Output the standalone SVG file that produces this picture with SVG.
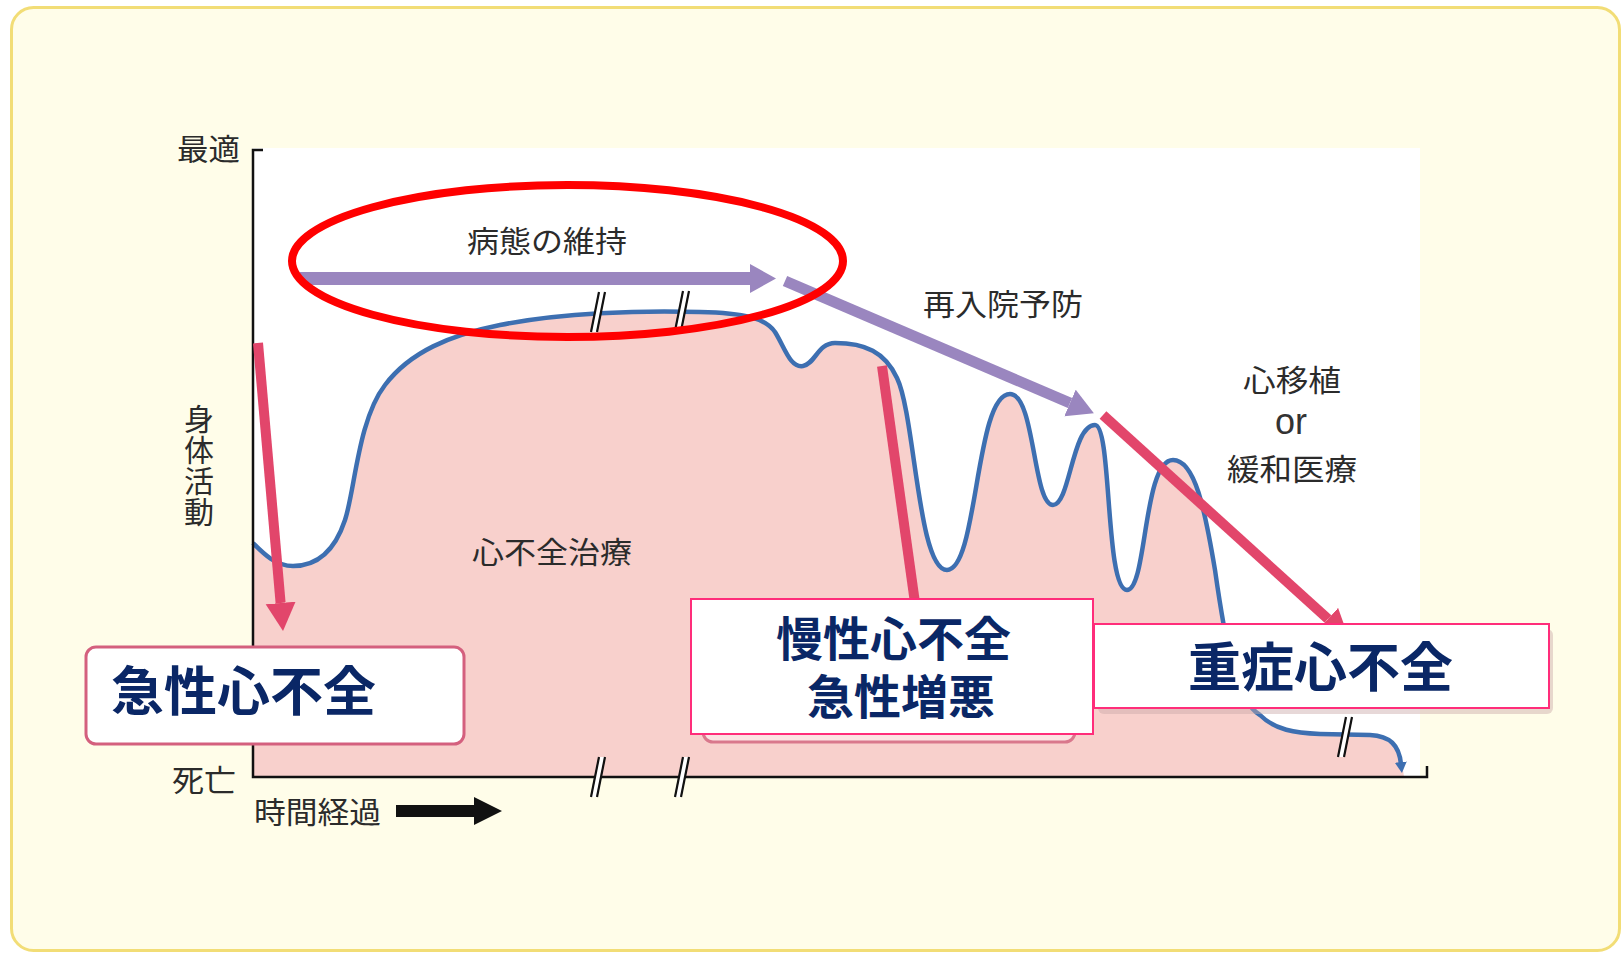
<svg xmlns="http://www.w3.org/2000/svg" width="1623" height="953" viewBox="0 0 1623 953">
<style>
.lbl{font-family:"Noto Sans CJK JP","Noto Sans",sans-serif;font-size:30px;fill:#2b2b2b}
.big{font-family:"Noto Sans CJK JP","Noto Sans",sans-serif;font-weight:700;fill:#0a2766}
.axis{fill:none;stroke:#111;stroke-width:2.5}
.curve{fill:none;stroke:#3d6fb1;stroke-width:4.5;stroke-linejoin:round}
.pk{stroke:#e2466b;stroke-width:10;fill:none}
.pu{stroke:#9a86bf;fill:none}
.brk line{stroke:#111;stroke-width:2.2}
</style>
<defs>
<marker id="hPink" markerUnits="userSpaceOnUse" markerWidth="30" markerHeight="32" refX="0" refY="15" orient="auto"><path d="M0,0 L28,15 L0,30 Z" fill="#e2466b"/></marker>
<marker id="hPurple" markerUnits="userSpaceOnUse" markerWidth="30" markerHeight="32" refX="0" refY="14.5" orient="auto"><path d="M0,0 L26,14.5 L0,29 Z" fill="#9a86bf"/></marker>
<marker id="hBlue" markerUnits="userSpaceOnUse" markerWidth="14" markerHeight="14" refX="2" refY="6" orient="auto"><path d="M0,0 L11,6 L0,12 Z" fill="#3d6fb1"/></marker>
<g id="brk" class="brk"><polygon points="2,-20 8,-20 0,20 -6,20" fill="#fff"/><line x1="2" y1="-20" x2="-6" y2="20"/><line x1="8" y1="-20" x2="0" y2="20"/></g>
</defs>
<rect x="11.5" y="7.5" width="1608" height="943" rx="22" fill="#fffde9" stroke="#f2dd76" stroke-width="3"/>
<rect x="253" y="148" width="1167" height="629" fill="#ffffff"/>
<g id="chart">
<path fill="#f8d0cc" d="M253 543 C262 552,275 566,293 566 C318 566,335 550,345 520 C355 490,358 420,385 385 C410 352,450 335,500 325 C560 313,640 310,700 312 C745 313,765 318,775 332 C785 348,790 368,803 366 C815 364,818 343,835 343 C865 343,885 352,897 378 C915 415,918 570,947 570 C978 570,975 394,1010 394 C1035 394,1033 505,1053 505 C1070 505,1072 425,1095 425 C1112 425,1105 590,1127 590 C1147 590,1143 460,1173 460 C1195 460,1205 510,1215 570 C1225 640,1235 700,1260 715 C1275 730,1295 733,1320 734 L1370 735 C1390 736,1400 745,1404 777 L253 777 Z"/>
<path class="curve" marker-end="url(#hBlue)" d="M253 543 C262 552,275 566,293 566 C318 566,335 550,345 520 C355 490,358 420,385 385 C410 352,450 335,500 325 C560 313,640 310,700 312 C745 313,765 318,775 332 C785 348,790 368,803 366 C815 364,818 343,835 343 C865 343,885 352,897 378 C915 415,918 570,947 570 C978 570,975 394,1010 394 C1035 394,1033 505,1053 505 C1070 505,1072 425,1095 425 C1112 425,1105 590,1127 590 C1147 590,1143 460,1173 460 C1195 460,1205 510,1215 570 C1225 640,1235 700,1260 715 C1275 730,1295 733,1320 734 L1370 735 C1390 736,1399 745,1401 764"/>
<path class="axis" d="M263 150 L253 150 L253 777 L1427 777 L1427 766"/>
<use href="#brk" x="597" y="312"/>
<use href="#brk" x="681" y="311"/>
<use href="#brk" x="597" y="777"/>
<use href="#brk" x="681" y="777"/>
<use href="#brk" x="1344" y="737"/>
</g>
<g id="connectors">
<line class="pk" x1="258" y1="343" x2="280.6" y2="603" marker-end="url(#hPink)"/>
<line class="pk" x1="882" y1="366" x2="916" y2="610"/>
<line class="pk" x1="1103" y1="415" x2="1328" y2="619" marker-end="url(#hPink)"/>
<line class="pu" stroke-width="13" x1="300" y1="278.5" x2="750" y2="278.5" marker-end="url(#hPurple)"/>
<line class="pu" stroke-width="11" x1="785" y1="281" x2="1070" y2="403" marker-end="url(#hPurple)"/>
<path d="M396 805 L474 805 L474 797 L502 811 L474 825 L474 817 L396 817 Z" fill="#111"/>
</g>
<g id="highlight"><ellipse cx="567.5" cy="261" rx="275.5" ry="76" fill="none" stroke="#ff0000" stroke-width="8"/></g>
<g id="labels">
<text class="lbl" x="177" y="160" textLength="63" lengthAdjust="spacingAndGlyphs">最適</text>
<text class="lbl" x="172" y="791" textLength="64" lengthAdjust="spacingAndGlyphs">死亡</text>
<text class="lbl" x="254" y="823" textLength="127" lengthAdjust="spacingAndGlyphs">時間経過</text>
<text class="lbl" x="199" y="404" style="writing-mode:vertical-rl;text-orientation:upright;letter-spacing:1px">身体活動</text>
<text class="lbl" x="467" y="252" textLength="160" lengthAdjust="spacingAndGlyphs">病態の維持</text>
<text class="lbl" x="923" y="315" textLength="160" lengthAdjust="spacingAndGlyphs">再入院予防</text>
<text class="lbl" x="472" y="563" textLength="160" lengthAdjust="spacingAndGlyphs">心不全治療</text>
<text class="lbl" x="1243" y="391" textLength="98" lengthAdjust="spacingAndGlyphs">心移植</text>
<text class="lbl" x="1291" y="434" text-anchor="middle" style="font-family:'Liberation Sans',sans-serif;font-size:36px;fill:#333">or</text>
<text class="lbl" x="1227" y="480" textLength="130" lengthAdjust="spacingAndGlyphs">緩和医療</text>
</g>
<g id="node-acute">
<rect x="86" y="647" width="378" height="97" rx="10" fill="#ffffff" stroke="#d4607e" stroke-width="3"/>
<text class="big" x="111" y="711" font-size="53">急性心不全</text>
</g>
<g id="node-chronic">
<rect x="703" y="612" width="372" height="130" rx="10" fill="#fbe3e3" stroke="#d9788c" stroke-width="3"/>
<rect x="691" y="599" width="402" height="135" fill="#ffffff" stroke="#ff2d7a" stroke-width="2"/>
<text class="big" font-size="47"><tspan x="776" y="656">慢性心不全</tspan><tspan x="807" y="714">急性増悪</tspan></text>
</g>
<g id="node-severe">
<rect x="1098" y="629" width="455" height="85" rx="6" fill="#c9a9a9" opacity="0.45"/>
<rect x="1094" y="624" width="455" height="84" fill="#ffffff" stroke="#ff2d7a" stroke-width="2"/>
<text class="big" x="1188" y="687" font-size="53">重症心不全</text>
</g>
</svg>
